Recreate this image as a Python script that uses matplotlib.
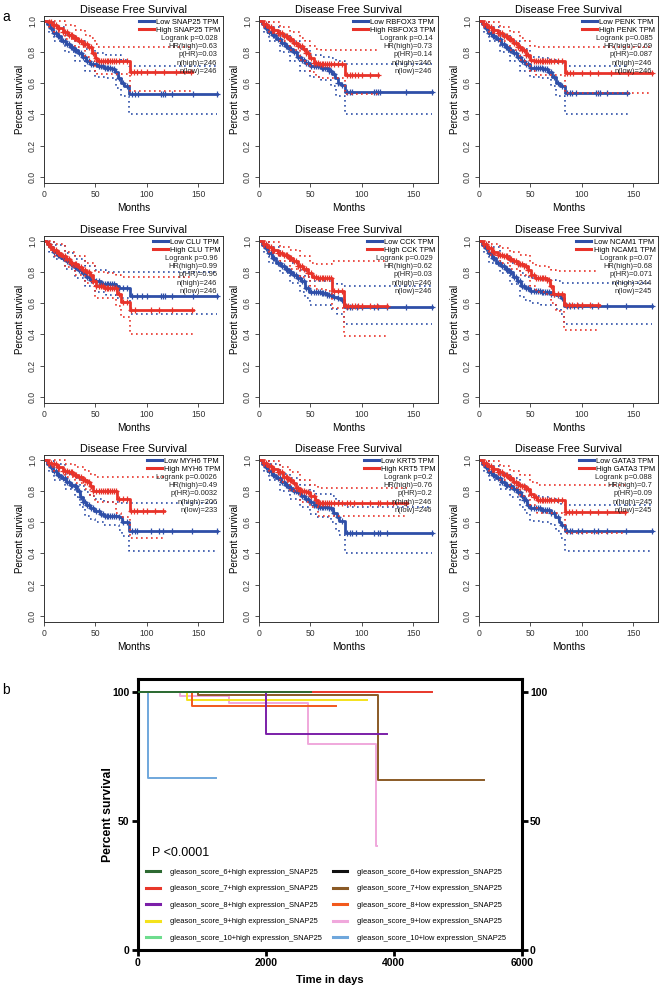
import numpy as np
import matplotlib
matplotlib.use("Agg")
import matplotlib.pyplot as plt
from matplotlib.lines import Line2D

plt.rcParams["font.family"] = ["Liberation Sans", "DejaVu Sans"]

# ---------------- panel a data (months, survival) ----------------
genes = ["SNAP25", "RBFOX3", "PENK", "CLU", "CCK", "NCAM1", "MYH6", "KRT5", "GATA3"]
logrank_p = ["0.028", "0.14", "0.085", "0.96", "0.029", "0.07", "0.0026", "0.2", "0.088"]
hr_high = ["0.63", "0.73", "0.69", "0.99", "0.62", "0.68", "0.49", "0.76", "0.7"]
p_hr = ["0.03", "0.14", "0.087", "0.96", "0.03", "0.071", "0.0032", "0.2", "0.09"]
n_high = [246, 246, 246, 246, 246, 244, 206, 246, 245]
n_low = [246, 246, 246, 246, 246, 245, 233, 246, 245]

snap25_low = [(0, 1.0), (3, 0.98), (6, 0.95), (9, 0.92), (13, 0.90), (17, 0.87), (21, 0.85), (25, 0.83), (29, 0.81),
              (33, 0.79), (37, 0.77), (41, 0.74), (45, 0.72), (52, 0.71), (58, 0.70), (66, 0.69), (69, 0.67),
              (72, 0.63), (75, 0.60), (78, 0.58), (83, 0.53), (168, 0.53)]
snap25_high = [(0, 1.0), (4, 0.99), (8, 0.97), (13, 0.95), (18, 0.93), (23, 0.91), (28, 0.89), (33, 0.87), (38, 0.85),
               (43, 0.83), (47, 0.79), (50, 0.76), (52, 0.74), (84, 0.67), (144, 0.67)]
snap25_low_ci = [(0, 1, 1), (5, 0.92, 0.99), (10, 0.87, 0.96), (20, 0.80, 0.91), (30, 0.74, 0.87), (40, 0.68, 0.82),
                 (50, 0.64, 0.79), (60, 0.63, 0.78), (70, 0.57, 0.78), (75, 0.52, 0.75), (83, 0.40, 0.71), (168, 0.40, 0.71)]
snap25_high_ci = [(0, 1, 1), (5, 0.96, 1.0), (10, 0.93, 0.995), (20, 0.88, 0.97), (30, 0.83, 0.94), (40, 0.77, 0.91),
                  (45, 0.74, 0.89), (50, 0.68, 0.85), (52, 0.66, 0.83), (84, 0.55, 0.83), (144, 0.55, 0.83)]

rbfox3_low = [(0, 1.0), (3, 0.98), (6, 0.95), (9, 0.93), (13, 0.91), (17, 0.88), (21, 0.86), (25, 0.84), (29, 0.82),
              (33, 0.80), (37, 0.77), (41, 0.75), (45, 0.73), (50, 0.71), (60, 0.70), (68, 0.68), (71, 0.66),
              (74, 0.63), (77, 0.60), (80, 0.59), (84, 0.54), (168, 0.54)]
rbfox3_high = [(0, 1.0), (4, 0.98), (8, 0.96), (13, 0.94), (18, 0.92), (23, 0.90), (28, 0.88), (33, 0.86), (38, 0.84),
               (43, 0.82), (46, 0.79), (49, 0.76), (53, 0.73), (58, 0.72), (84, 0.65), (116, 0.65)]
rbfox3_low_ci = [(0, 1, 1), (5, 0.92, 0.99), (10, 0.87, 0.96), (20, 0.80, 0.91), (30, 0.74, 0.87), (40, 0.68, 0.82),
                 (50, 0.64, 0.78), (60, 0.62, 0.77), (70, 0.58, 0.76), (75, 0.52, 0.74), (84, 0.40, 0.72), (168, 0.40, 0.72)]
rbfox3_high_ci = [(0, 1, 1), (5, 0.95, 1.0), (10, 0.92, 0.99), (20, 0.87, 0.96), (30, 0.81, 0.93), (40, 0.75, 0.89),
                  (45, 0.72, 0.87), (50, 0.67, 0.84), (55, 0.64, 0.82), (60, 0.63, 0.81), (84, 0.53, 0.81), (116, 0.53, 0.81)]

penk_low = [(0, 1.0), (3, 0.98), (6, 0.95), (9, 0.92), (13, 0.90), (17, 0.88), (21, 0.85), (25, 0.83), (29, 0.81),
            (33, 0.79), (37, 0.77), (41, 0.74), (45, 0.72), (50, 0.70), (62, 0.69), (67, 0.67), (71, 0.64),
            (75, 0.60), (79, 0.58), (84, 0.535), (145, 0.535)]
penk_high = [(0, 1.0), (4, 0.98), (8, 0.96), (13, 0.94), (18, 0.92), (23, 0.90), (28, 0.88), (33, 0.86), (38, 0.83),
             (42, 0.81), (46, 0.78), (50, 0.75), (53, 0.74), (84, 0.665), (168, 0.665)]
penk_low_ci = [(0, 1, 1), (5, 0.92, 0.99), (10, 0.87, 0.96), (20, 0.80, 0.91), (30, 0.74, 0.87), (40, 0.68, 0.82),
               (50, 0.64, 0.77), (60, 0.63, 0.76), (70, 0.58, 0.75), (75, 0.52, 0.73), (84, 0.40, 0.71), (145, 0.40, 0.71)]
penk_high_ci = [(0, 1, 1), (5, 0.95, 1.0), (10, 0.92, 0.99), (20, 0.87, 0.96), (30, 0.81, 0.93), (40, 0.75, 0.89),
                (45, 0.72, 0.87), (50, 0.68, 0.84), (55, 0.65, 0.83), (84, 0.535, 0.83), (168, 0.535, 0.83)]

clu_low = [(0, 1.0), (3, 0.98), (6, 0.96), (9, 0.93), (13, 0.91), (17, 0.89), (21, 0.87), (25, 0.85), (29, 0.83),
           (33, 0.81), (37, 0.79), (41, 0.77), (45, 0.75), (50, 0.74), (55, 0.72), (65, 0.72), (70, 0.71),
           (73, 0.70), (84, 0.645), (168, 0.645)]
clu_high = [(0, 1.0), (3, 0.98), (6, 0.96), (9, 0.94), (13, 0.92), (17, 0.90), (21, 0.88), (25, 0.86), (29, 0.85),
            (33, 0.83), (37, 0.81), (41, 0.80), (45, 0.78), (48, 0.74), (51, 0.71), (58, 0.70), (67, 0.70),
            (71, 0.66), (75, 0.61), (84, 0.553), (145, 0.553)]
clu_low_ci = [(0, 1, 1), (5, 0.93, 0.99), (10, 0.88, 0.97), (20, 0.82, 0.92), (30, 0.76, 0.88), (40, 0.71, 0.84),
              (50, 0.67, 0.81), (60, 0.65, 0.80), (70, 0.63, 0.80), (84, 0.53, 0.80), (168, 0.53, 0.80)]
clu_high_ci = [(0, 1, 1), (5, 0.94, 1.0), (10, 0.90, 0.98), (20, 0.83, 0.93), (30, 0.78, 0.90), (40, 0.73, 0.86),
               (50, 0.63, 0.80), (60, 0.63, 0.79), (70, 0.58, 0.78), (75, 0.51, 0.77), (84, 0.40, 0.77), (145, 0.40, 0.77)]

cck_low = [(0, 1.0), (3, 0.97), (6, 0.95), (9, 0.92), (13, 0.89), (17, 0.86), (21, 0.84), (25, 0.82), (29, 0.80),
           (33, 0.78), (37, 0.76), (41, 0.74), (45, 0.70), (49, 0.67), (60, 0.665), (66, 0.65), (72, 0.64),
           (76, 0.63), (80, 0.62), (83, 0.575), (168, 0.575)]
cck_high = [(0, 1.0), (4, 0.98), (8, 0.96), (13, 0.94), (18, 0.92), (23, 0.91), (28, 0.89), (33, 0.87), (38, 0.84),
            (43, 0.82), (48, 0.79), (52, 0.77), (56, 0.76), (71, 0.675), (83, 0.58), (124, 0.58)]
cck_low_ci = [(0, 1, 1), (5, 0.92, 0.99), (10, 0.86, 0.96), (20, 0.79, 0.90), (30, 0.73, 0.86), (40, 0.67, 0.81),
              (45, 0.63, 0.77), (50, 0.59, 0.74), (60, 0.59, 0.74), (70, 0.56, 0.73), (76, 0.53, 0.72),
              (83, 0.465, 0.71), (168, 0.465, 0.71)]
cck_high_ci = [(0, 1, 1), (5, 0.95, 1.0), (10, 0.92, 0.99), (20, 0.87, 0.96), (30, 0.82, 0.94), (40, 0.77, 0.90),
               (50, 0.71, 0.86), (55, 0.69, 0.85), (65, 0.68, 0.85), (71, 0.57, 0.87), (83, 0.39, 0.87), (124, 0.39, 0.87)]

ncam1_low = [(0, 1.0), (3, 0.97), (6, 0.95), (9, 0.92), (13, 0.89), (17, 0.86), (21, 0.84), (25, 0.82), (29, 0.80),
             (33, 0.77), (37, 0.74), (41, 0.71), (45, 0.70), (50, 0.68), (60, 0.67), (70, 0.66), (75, 0.65),
             (80, 0.63), (83, 0.58), (168, 0.58)]
ncam1_high = [(0, 1.0), (4, 0.98), (8, 0.95), (13, 0.93), (18, 0.91), (23, 0.90), (28, 0.88), (33, 0.87), (38, 0.85),
              (44, 0.84), (48, 0.81), (51, 0.78), (54, 0.76), (66, 0.75), (69, 0.71), (72, 0.66), (83, 0.585), (117, 0.585)]
ncam1_low_ci = [(0, 1, 1), (5, 0.92, 0.99), (10, 0.86, 0.96), (20, 0.79, 0.90), (30, 0.72, 0.86), (40, 0.64, 0.79),
                (45, 0.62, 0.77), (50, 0.60, 0.76), (60, 0.59, 0.75), (75, 0.56, 0.74), (80, 0.53, 0.73),
                (83, 0.465, 0.73), (168, 0.465, 0.73)]
ncam1_high_ci = [(0, 1, 1), (5, 0.95, 1.0), (10, 0.91, 0.98), (20, 0.86, 0.95), (30, 0.82, 0.93), (40, 0.78, 0.91),
                 (50, 0.71, 0.86), (55, 0.67, 0.84), (65, 0.66, 0.83), (70, 0.60, 0.81), (75, 0.55, 0.805),
                 (83, 0.43, 0.805), (117, 0.43, 0.805)]

myh6_low = [(0, 1.0), (3, 0.97), (6, 0.95), (9, 0.93), (13, 0.90), (17, 0.88), (21, 0.86), (25, 0.84), (29, 0.83),
            (32, 0.80), (35, 0.76), (38, 0.73), (41, 0.71), (45, 0.69), (49, 0.67), (54, 0.65), (58, 0.64),
            (73, 0.63), (76, 0.60), (83, 0.545), (168, 0.545)]
myh6_high = [(0, 1.0), (4, 0.98), (8, 0.97), (13, 0.95), (18, 0.93), (23, 0.92), (28, 0.90), (33, 0.89), (38, 0.87),
             (42, 0.86), (45, 0.83), (48, 0.80), (52, 0.80), (71, 0.75), (84, 0.668), (117, 0.668)]
myh6_low_ci = [(0, 1, 1), (5, 0.92, 0.99), (10, 0.87, 0.97), (20, 0.81, 0.91), (30, 0.76, 0.88), (35, 0.70, 0.83),
               (40, 0.64, 0.79), (45, 0.62, 0.77), (50, 0.60, 0.75), (58, 0.58, 0.73), (73, 0.55, 0.72),
               (76, 0.51, 0.72), (83, 0.415, 0.72), (168, 0.415, 0.72)]
myh6_high_ci = [(0, 1, 1), (5, 0.95, 1.0), (10, 0.93, 0.995), (20, 0.89, 0.97), (30, 0.85, 0.95), (40, 0.81, 0.93),
                (45, 0.77, 0.91), (50, 0.73, 0.89), (70, 0.66, 0.89), (75, 0.63, 0.89), (84, 0.50, 0.89), (117, 0.50, 0.89)]

krt5_low = [(0, 1.0), (3, 0.97), (6, 0.95), (9, 0.93), (13, 0.90), (17, 0.88), (21, 0.86), (25, 0.84), (29, 0.82),
            (33, 0.80), (37, 0.79), (41, 0.77), (45, 0.75), (49, 0.73), (53, 0.71), (57, 0.70), (68, 0.69),
            (72, 0.66), (76, 0.63), (78, 0.61), (84, 0.53), (168, 0.53)]
krt5_high = [(0, 1.0), (4, 0.98), (8, 0.96), (13, 0.94), (18, 0.92), (23, 0.89), (28, 0.87), (33, 0.85), (36, 0.82),
             (40, 0.80), (46, 0.79), (50, 0.77), (54, 0.74), (57, 0.72), (144, 0.72)]
krt5_low_ci = [(0, 1, 1), (5, 0.92, 0.99), (10, 0.87, 0.97), (20, 0.80, 0.91), (30, 0.75, 0.88), (40, 0.70, 0.84),
               (50, 0.65, 0.80), (55, 0.63, 0.78), (70, 0.60, 0.77), (75, 0.55, 0.74), (78, 0.52, 0.72),
               (84, 0.40, 0.70), (168, 0.40, 0.70)]
krt5_high_ci = [(0, 1, 1), (5, 0.95, 1.0), (10, 0.92, 0.99), (20, 0.86, 0.95), (30, 0.80, 0.92), (40, 0.73, 0.87),
                (50, 0.70, 0.84), (57, 0.64, 0.82), (144, 0.635, 0.82)]

gata3_low = [(0, 1.0), (3, 0.97), (6, 0.95), (9, 0.92), (13, 0.90), (17, 0.88), (21, 0.86), (25, 0.84), (29, 0.83),
             (33, 0.81), (37, 0.79), (41, 0.77), (44, 0.74), (47, 0.71), (50, 0.69), (60, 0.68), (67, 0.68),
             (70, 0.66), (74, 0.63), (78, 0.60), (80, 0.58), (84, 0.54), (168, 0.54)]
gata3_high = [(0, 1.0), (4, 0.98), (8, 0.96), (13, 0.94), (18, 0.92), (23, 0.90), (28, 0.88), (33, 0.86), (38, 0.84),
              (42, 0.83), (46, 0.81), (50, 0.78), (53, 0.76), (56, 0.74), (84, 0.665), (142, 0.665)]
gata3_low_ci = [(0, 1, 1), (5, 0.92, 0.99), (10, 0.87, 0.96), (20, 0.81, 0.91), (30, 0.76, 0.88), (40, 0.70, 0.84),
                (45, 0.66, 0.80), (50, 0.61, 0.77), (60, 0.60, 0.76), (70, 0.58, 0.75), (75, 0.54, 0.73),
                (80, 0.50, 0.71), (84, 0.415, 0.71), (168, 0.415, 0.71)]
gata3_high_ci = [(0, 1, 1), (5, 0.95, 1.0), (10, 0.92, 0.99), (20, 0.87, 0.96), (30, 0.82, 0.93), (40, 0.77, 0.90),
                 (50, 0.71, 0.86), (56, 0.66, 0.84), (84, 0.53, 0.84), (142, 0.53, 0.84)]

# censor marks: the dense early part is shared, the late ones per curve
cens_early = [5, 7, 10, 12, 14, 15, 18, 20, 22, 24, 26, 27, 30, 31, 34, 36, 38, 40, 42, 44, 46, 48,
              51, 53, 55, 57, 59, 61, 62, 64, 66, 68, 70, 73, 77, 81]
cens_low_late = [[86, 88, 91, 114, 116, 118, 124, 145, 168], [86, 88, 90, 112, 114, 116, 118, 143, 168],
                 [86, 88, 90, 94, 114, 116, 118, 124, 144], [86, 90, 95, 100, 114, 116, 118, 124, 145, 168],
                 [86, 88, 90, 95, 100, 112, 116, 124, 143, 168], [86, 88, 92, 96, 100, 110, 116, 124, 143, 168],
                 [86, 88, 90, 104, 112, 116, 124, 144, 168], [86, 88, 90, 94, 100, 112, 116, 118, 124, 168],
                 [86, 88, 90, 96, 100, 112, 116, 124, 143, 168]]
cens_high_late = [[85, 87, 90, 94, 100, 108, 117, 128, 143], [86, 88, 90, 93, 96, 100, 108, 116],
                  [86, 88, 91, 100, 108, 116, 128, 145, 168], [85, 88, 104, 112, 124, 144],
                  [85, 87, 90, 93, 96, 100, 108, 115, 124], [85, 87, 90, 95, 100, 108, 116],
                  [85, 87, 90, 96, 100, 108, 116], [86, 88, 92, 100, 108, 116, 118, 124, 130, 143],
                  [85, 87, 90, 94, 100, 108, 116, 124, 142]]

low_curves = [snap25_low, rbfox3_low, penk_low, clu_low, cck_low, ncam1_low, myh6_low, krt5_low, gata3_low]
high_curves = [snap25_high, rbfox3_high, penk_high, clu_high, cck_high, ncam1_high, myh6_high, krt5_high, gata3_high]
low_cis = [snap25_low_ci, rbfox3_low_ci, penk_low_ci, clu_low_ci, cck_low_ci, ncam1_low_ci, myh6_low_ci,
           krt5_low_ci, gata3_low_ci]
high_cis = [snap25_high_ci, rbfox3_high_ci, penk_high_ci, clu_high_ci, cck_high_ci, ncam1_high_ci, myh6_high_ci,
            krt5_high_ci, gata3_high_ci]

# ---------------- panel b data (days, percent) ----------------
b_labels = ["gleason_score_6+high expression_SNAP25", "gleason_score_7+high expression_SNAP25",
            "gleason_score_8+high expression_SNAP25", "gleason_score_9+high expression_SNAP25",
            "gleason_score_10+high expression_SNAP25", "gleason_score_6+low expression_SNAP25",
            "gleason_score_7+low expression_SNAP25", "gleason_score_8+low expression_SNAP25",
            "gleason_score_9+low expression_SNAP25", "gleason_score_10+low expression_SNAP25"]
b_colors = ["#2d6a32", "#e8372a", "#7b1fa8", "#f4e21c", "#6edc8e",
            "#111111", "#8a5a26", "#f2591c", "#f0a8dc", "#6fa7dc"]
g6_high = [(0, 100), (2700, 100)]
g7_high = [(0, 100), (4600, 100)]
g8_high = [(0, 100), (2000, 83.5), (3900, 83.5)]
g9_high = [(0, 100), (775, 96.8), (3580, 96.8)]
g10_high = [(0, 100), (2100, 100)]
g6_low = [(0, 100), (1500, 100)]
g7_low = [(0, 100), (940, 98.8), (3750, 65.9), (5410, 65.9)]
g8_low = [(0, 100), (845, 94.4), (3100, 94.4)]
g9_low = [(0, 100), (660, 98.3), (1420, 95.8), (2666, 79.8), (3730, 40.2), (3735, 40.2)]
g10_low = [(0, 100), (166, 66.7), (1223, 66.7)]
b_curves = [g6_high, g7_high, g8_high, g9_high, g10_high, g6_low, g7_low, g8_low, g9_low, g10_low]
b_zorder = [10, 8, 6, 5, 9, 7, 4, 5, 3, 2]

W, H = 659, 989
fig = plt.figure(figsize=(W / 100, H / 100), dpi=100)


def rect(left, top, right, bottom):
    return [left / W, 1 - bottom / H, (right - left) / W, (bottom - top) / H]


def steps(ax, pts, **kw):
    t = [p[0] for p in pts]
    s = [p[1] for p in pts]
    ax.step(t, s, where="post", **kw)
    return np.array(t), np.array(s)


blue = "#2f4fa8"
red = "#e8332a"
col_left = [44, 259, 479]
row_top = [16, 236, 455]

for i, g in enumerate(genes):
    r, c = divmod(i, 3)
    ax = fig.add_axes(rect(col_left[c], row_top[r], col_left[c] + 179, row_top[r] + 167))
    for curve, ci, color, late in [(low_curves[i], low_cis[i], blue, cens_low_late[i]),
                                   (high_curves[i], high_cis[i], red, cens_high_late[i])]:
        ct = [p[0] for p in ci]
        ax.step(ct, [p[1] for p in ci], where="post", color=color, lw=1.2, ls=(0, (1, 2.0)))
        ax.step(ct, [p[2] for p in ci], where="post", color=color, lw=1.2, ls=(0, (1, 2.0)))
        t, s = steps(ax, curve, color=color, lw=2.0)
        cens = np.array([x for x in cens_early + late if x <= t[-1]])
        idx = np.searchsorted(t, cens, side="right") - 1
        ax.plot(cens, s[idx], ls="none", marker="+", ms=3.8, mew=0.9, color=color)
    ax.set_xlim(0, 174)
    ax.set_ylim(-0.04, 1.03)
    ax.set_xticks([0, 50, 100, 150])
    ax.set_yticks([0, 0.2, 0.4, 0.6, 0.8, 1.0])
    ax.set_yticklabels(["0.0", "0.2", "0.4", "0.6", "0.8", "1.0"], rotation=90, va="center")
    ax.tick_params(labelsize=6.2, length=3, width=0.6, pad=2, colors="#333333")
    for sp in ax.spines.values():
        sp.set_linewidth(0.7)
        sp.set_color("#333333")
    ax.set_title("Disease Free Survival", fontsize=7.8, pad=2.5)
    ax.set_xlabel("Months", fontsize=7.2, labelpad=3)
    ax.set_ylabel("Percent survival", fontsize=7, labelpad=2)
    handles = [Line2D([], [], color=blue, lw=2.2), Line2D([], [], color=red, lw=2.2)]
    ax.legend(handles, ["Low %s TPM" % g, "High %s TPM" % g], loc="upper right", frameon=False,
              fontsize=5.4, handlelength=2.0, handletextpad=0.3, labelspacing=0.1,
              borderpad=0.1, borderaxespad=0.25)
    stats = ["Logrank p=" + logrank_p[i], "HR(high)=" + hr_high[i], "p(HR)=" + p_hr[i],
             "n(high)=%d" % n_high[i], "n(low)=%d" % n_low[i]]
    for k, line in enumerate(stats):
        ax.text(0.968, 1 - (22.2 + 8.3 * k) / 167, line, transform=ax.transAxes,
                ha="right", va="center", fontsize=5.4, color="#222222")

# ---------------- panel b ----------------
axb = fig.add_axes(rect(137.7, 679, 521.7, 950))
for pts, color, z, lab in zip(b_curves, b_colors, b_zorder, b_labels):
    steps(axb, pts, color=color, lw=1.4, zorder=z, label=lab)
axb.set_xlim(0, 6000)
axb.set_ylim(0, 105)
axb.set_xticks([0, 2000, 4000, 6000])
axb.set_yticks([0, 50, 100])
for sp in axb.spines.values():
    sp.set_linewidth(2.2)
axb.tick_params(width=2, length=4, labelsize=7.5, right=True, labelright=True, pad=2)
for lab in axb.get_xticklabels() + axb.get_yticklabels():
    lab.set_fontweight("bold")
for t in axb.yaxis.get_major_ticks():
    t.label2.set_fontweight("bold")
axb.set_xlabel("Time in days", fontsize=8, fontweight="bold", labelpad=5)
axb.set_ylabel("Percent survival", fontsize=8.8, fontweight="bold")
axb.yaxis.set_label_coords(-0.062, 0.5)
axb.text(0.038, 0.357, "P <0.0001", transform=axb.transAxes, fontsize=9, va="center")
handles, labels = axb.get_legend_handles_labels()
leg_handles = [Line2D([], [], color=h.get_color(), lw=2.2) for h in handles]
axb.legend(leg_handles, labels, ncol=2, loc="upper left", bbox_to_anchor=(0.022, 0.30),
           frameon=False, fontsize=5.4, handlelength=1.9, handletextpad=1.3, labelspacing=1.22,
           columnspacing=1.45, borderpad=0, borderaxespad=0)

fig.text(0.004, 1 - 17 / H, "a", fontsize=10, va="center")
fig.text(0.004, 1 - 690 / H, "b", fontsize=10, va="center")

fig.savefig("out.png", dpi=100)
